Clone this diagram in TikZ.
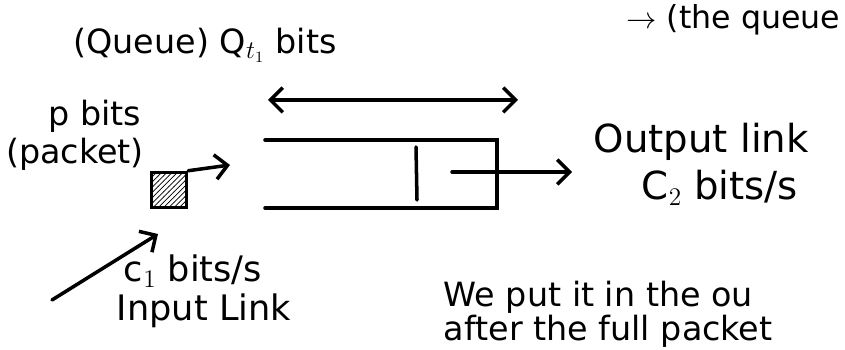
\documentclass[tikz,border=0pt]{standalone}
\usepackage{amsmath}
\usepackage{fontspec}
\setmainfont{DejaVu Sans}
\usepackage{tikz}
\usetikzlibrary{patterns, arrows.meta}

\begin{document}
\begin{tikzpicture}[x=0.02cm, y=-0.02cm, >={Straight Barb[length=7pt, width=14pt]},
  line width=2pt, line cap=round,
  lbl/.style={font=\fontsize{22}{26}\selectfont, align=center, inner sep=0pt}]
  \useasboundingbox (0,0) rectangle (845,350);
  \clip (0,0) rectangle (845,350);
  % Các điểm của hàng đợi
  \coordinate (QTL) at (265,140);
  \coordinate (QTR) at (497,140);
  \coordinate (QBL) at (265,208);
  \coordinate (QBR) at (497,208);
  \coordinate (AL) at (268,100);
  \coordinate (AR) at (518,100);
  % 1. Hàng đợi
  \draw (QTL) -- (QTR) -- (QBR) -- (QBL);
  \draw (416,147) -- (417,200);
  % 2. Mũi tên hai chiều (độ dài hàng đợi)
  \draw[<->] (AL) -- (AR);
  \node[lbl, font=\fontsize{19}{22}\selectfont] (queue) at (205,45) {(Queue) Q$_{t_1}$ bits};
  % 3. Gói tin
  \node[draw, pattern=north east lines, minimum size=0.7cm, inner sep=0pt] (packet) at (169,190) {};
  \coordinate (pin) at (230,165);
  \draw[->] (packet.north east) -- (pin);
  \node[lbl, font=\fontsize{19}{22}\selectfont] (pbits) at (95,116) {p bits};
  \node[lbl, font=\fontsize{19}{22}\selectfont] (pname) at (75,154) {(packet)};
  % 4. Đường vào
  \coordinate (inS) at (52,300);
  \coordinate (inE) at (158,234);
  \draw[->] (inS) -- (inE);
  \node[lbl, font=\fontsize{20}{24}\selectfont] (crate) at (193,271) {c$_1$ bits/s};
  \node[lbl, font=\fontsize{20}{24}\selectfont] (inlink) at (204,311) {Input Link};
  % 5. Đường ra
  \coordinate (outS) at (452,172);
  \coordinate (outE) at (572,172);
  \draw[->] (outS) -- (outE);
  \node[lbl, anchor=west] (outlink) at (592,142) {Output link};
  \node[lbl, anchor=west] (orate) at (640,188) {C$_2$ bits/s};
  % 6. Ghi chú
  \node[lbl, font=\fontsize{19}{22}\selectfont, anchor=west] (note1) at (442,297) {We put it in the ou};
  \node[lbl, font=\fontsize{19}{22}\selectfont, anchor=west] (note2) at (442,331) {after the full packet};
  \node[lbl, font=\fontsize{18}{22}\selectfont, anchor=east] (note0) at (842,20) {$\rightarrow$ (the queue};
\end{tikzpicture}
\end{document}
